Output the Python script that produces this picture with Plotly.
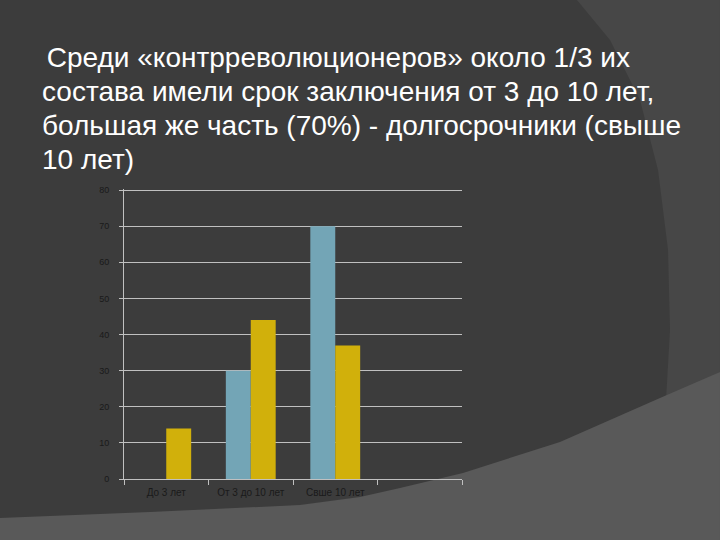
import plotly.graph_objects as go

# data
categories = ["До 3 лет", "От 3 до 10 лет", "Свше 10 лет", " "]
series_a = [0, 30, 70, None]   # blue
series_b = [14, 44, 37, None]  # yellow
title_lines = [
    " Среди «контрреволюционеров» около 1/3 их",
    "состава имели срок заключения от 3 до 10 лет,",
    "большая же часть (70%) - долгосрочники (свыше",
    "10 лет)",
]

W, H = 720, 540
L, R, T, B = 124, 258, 189, 61
pw, ph = W - L - R, H - T - B


def px(x):
    return (x - L) / pw


def py(y):
    return (H - B - y) / ph


def path(points):
    s = "M " + " L ".join(f"{px(x):.4f},{py(y):.4f}" for x, y in points)
    return s + " Z"


fig = go.Figure()
fig.add_trace(go.Bar(x=categories, y=series_a, marker_color="#73a5b6",
                     marker_line_width=0, hoverinfo="skip"))
fig.add_trace(go.Bar(x=categories, y=series_b, marker_color="#d1b00b",
                     marker_line_width=0, hoverinfo="skip"))

# slide background pieces
right_piece = [(577, 0), (610, 40), (640, 100), (658, 170), (668, 250),
               (670, 330), (666, 400), (720, 372), (720, 0)]
bottom_piece = [(0, 518), (150, 512), (300, 505), (360, 497), (400, 488),
                (463, 473), (560, 442), (660, 398), (720, 372),
                (720, 540), (0, 540)]
shapes = [
    dict(type="path", xref="paper", yref="paper", path=path(right_piece),
         fillcolor="#474747", line_width=0, layer="below"),
    dict(type="path", xref="paper", yref="paper", path=path(bottom_piece),
         fillcolor="#595959", line_width=0, layer="below"),
]

line_y = [57, 91, 125, 159]
line_x = [37, 40, 40, 40]
annotations = []
for txt, xx, yy in zip(title_lines, line_x, line_y):
    annotations.append(dict(
        text=txt, x=px(xx), y=py(yy), xref="paper", yref="paper",
        xanchor="left", yanchor="middle", showarrow=False,
        font=dict(family="Liberation Sans, Arial", size=28, color="#ffffff"),
    ))

fig.update_layout(
    width=W, height=H,
    margin=dict(l=L, r=R, t=T, b=B, pad=0),
    paper_bgcolor="#3c3c3c",
    plot_bgcolor="rgba(0,0,0,0)",
    barmode="group", bargap=0.41, bargroupgap=0,
    showlegend=False,
    shapes=shapes,
    annotations=annotations,
    font=dict(family="Liberation Sans, Arial", size=9, color="#1a1a1a"),
)
fig.update_xaxes(
    type="category", categoryorder="array", categoryarray=categories,
    range=[-0.5, 3.5], showline=True, linecolor="#c0c0c0", linewidth=1,
    ticks="outside", tickson="boundaries", ticklen=5, tickcolor="#c0c0c0",
    ticklabelstandoff=4,
    showgrid=False, tickfont=dict(size=10, color="#1a1a1a"), fixedrange=True,
)
fig.update_yaxes(
    range=[0, 80.3], dtick=10, showline=True, linecolor="#c0c0c0", linewidth=1,
    ticks="outside", ticklen=4, tickcolor="#c0c0c0", ticklabelstandoff=8,
    showgrid=True, gridcolor="#c0c0c0", gridwidth=1, zeroline=False,
    tickfont=dict(size=9, color="#1a1a1a"), fixedrange=True,
)

fig.write_html("out.html", config={"displayModeBar": False},
               post_script="document.body.style.margin='0';")
